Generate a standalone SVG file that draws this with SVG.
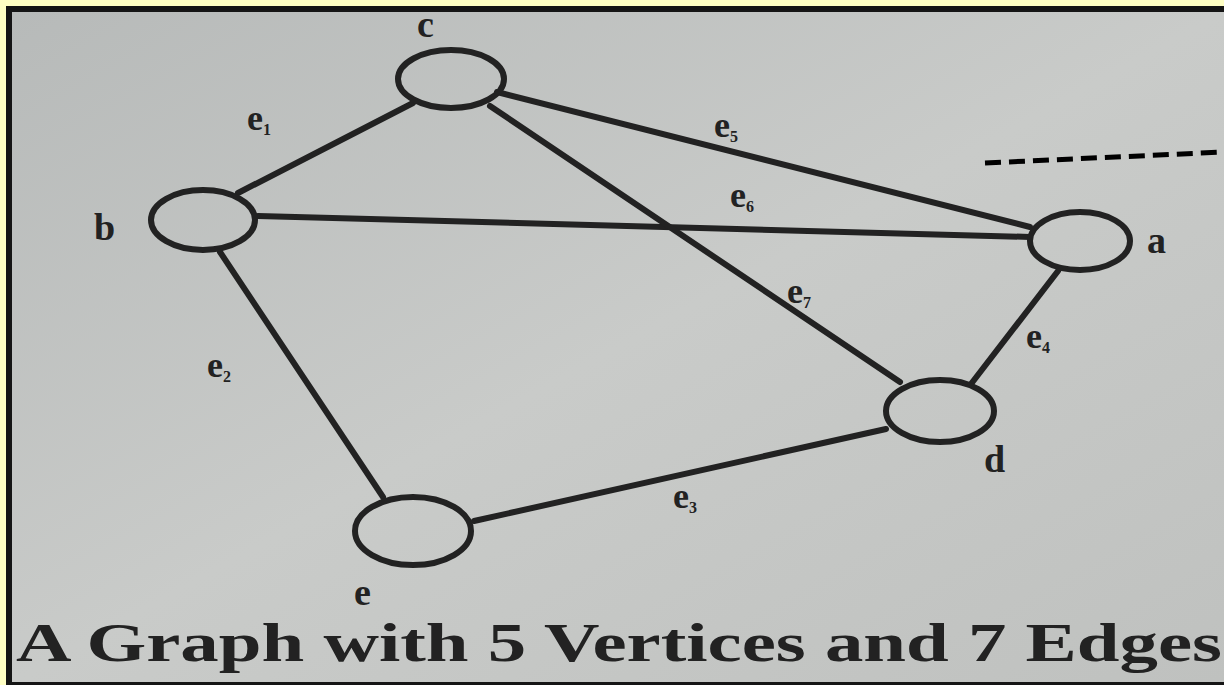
<svg xmlns="http://www.w3.org/2000/svg" width="1224" height="685" viewBox="0 0 1224 685">
<defs>
<linearGradient id="pg" x1="0" y1="0" x2="1" y2="1">
<stop offset="0" stop-color="#b7bab9"/>
<stop offset="0.5" stop-color="#c9cbc9"/>
<stop offset="1" stop-color="#bfc1bf"/>
</linearGradient>
<style>
.n{fill:none;stroke:#222;stroke-width:6}
.ed{stroke:#222;stroke-width:6;fill:none;stroke-linecap:round}
.lb{font-family:"Liberation Serif",serif;font-weight:bold;fill:#222}
.v{font-size:38px}
.el{font-size:36px}
.sub{font-size:16px}
</style>
</defs>
<rect x="0" y="0" width="1224" height="685" fill="#ffffc4"/>
<rect x="6" y="6" width="1224" height="685" fill="#151515"/>
<rect x="12" y="12" width="1212" height="670" fill="url(#pg)"/>
<g id="connectors">
<line class="ed" x1="238" y1="193" x2="413" y2="103"/>
<line class="ed" x1="258" y1="216" x2="1030" y2="237"/>
<line class="ed" x1="497" y1="92" x2="1030" y2="227"/>
<line class="ed" x1="490" y1="106" x2="900" y2="382"/>
<line class="ed" x1="1058" y1="271" x2="971" y2="384"/>
<line class="ed" x1="220" y1="252" x2="383" y2="497"/>
<line class="ed" x1="474" y1="521" x2="886" y2="429"/>
</g>
<g id="node-c"><ellipse class="n" cx="451" cy="79" rx="53" ry="29"/><text class="lb v" x="417" y="37">c</text></g>
<g id="node-b"><ellipse class="n" cx="203" cy="220" rx="52" ry="30"/><text class="lb v" x="94" y="240">b</text></g>
<g id="node-a"><ellipse class="n" cx="1080" cy="241" rx="50" ry="29"/><text class="lb v" x="1147" y="253">a</text></g>
<g id="node-d"><ellipse class="n" cx="940" cy="411" rx="54" ry="31"/><text class="lb v" x="984" y="472">d</text></g>
<g id="node-e"><ellipse class="n" cx="413" cy="531" rx="58" ry="34"/><text class="lb v" x="354" y="605">e</text></g>
<g id="edge-labels">
<text class="lb el" x="247" y="130">e<tspan class="sub" dy="5">1</tspan></text>
<text class="lb el" x="714" y="137">e<tspan class="sub" dy="5">5</tspan></text>
<text class="lb el" x="730" y="207">e<tspan class="sub" dy="5">6</tspan></text>
<text class="lb el" x="787" y="303">e<tspan class="sub" dy="5">7</tspan></text>
<text class="lb el" x="1026" y="348">e<tspan class="sub" dy="5">4</tspan></text>
<text class="lb el" x="207" y="377">e<tspan class="sub" dy="5">2</tspan></text>
<text class="lb el" x="673" y="508">e<tspan class="sub" dy="5">3</tspan></text>
</g>
<line x1="985" y1="163" x2="1224" y2="152" stroke="#000" stroke-width="5" stroke-dasharray="16,8"/>
<text class="lb" x="16" y="661" font-size="54" textLength="1206" lengthAdjust="spacingAndGlyphs">A Graph with 5 Vertices and 7 Edges</text>
</svg>
